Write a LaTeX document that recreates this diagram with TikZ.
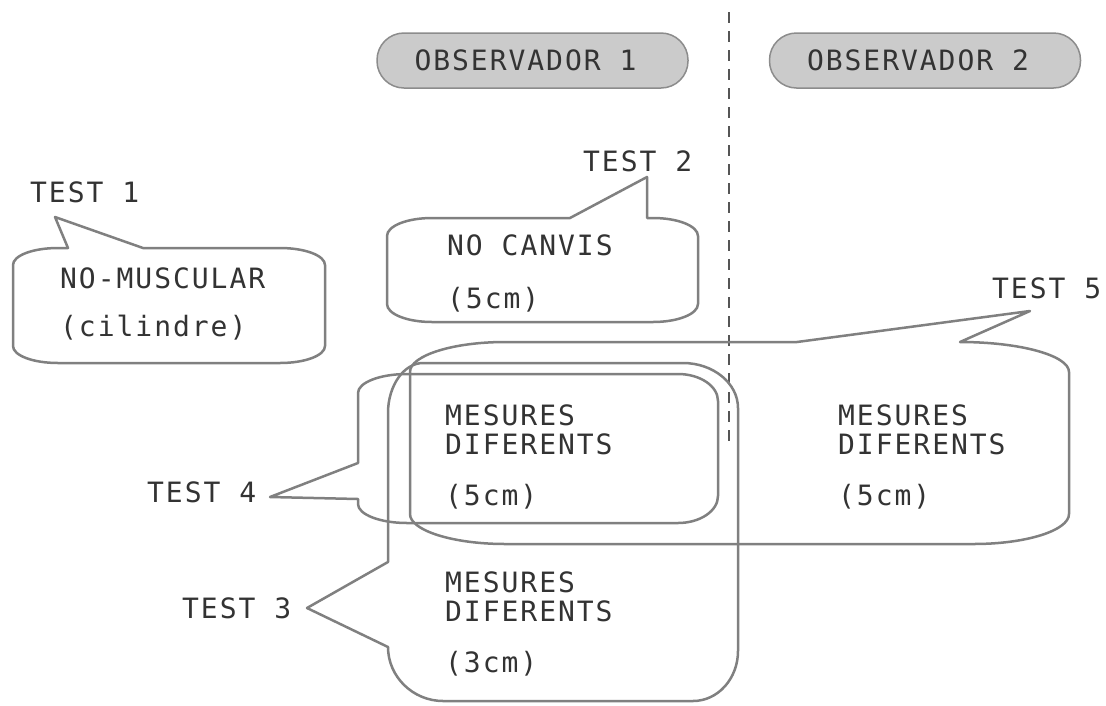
\documentclass[tikz,border=0pt]{standalone}
\usepackage{fontspec}
\newfontfamily\lblfont{DejaVu Sans Mono}[LetterSpace=7]
\definecolor{txt}{HTML}{333333}
\definecolor{edge}{HTML}{808080}
\definecolor{pillfill}{HTML}{CBCBCB}
\definecolor{pilledge}{HTML}{8C8C8C}
\definecolor{dashc}{HTML}{555555}
\tikzset{
  lbl/.style={font=\lblfont\fontsize{28}{31}\selectfont, text=txt, inner sep=0pt, anchor=base west},
  bubble/.style={draw=edge, line width=2.5pt, line join=round},
  pill/.style={draw=pilledge, fill=pillfill, line width=1.5pt, rounded corners=27pt,
    minimum width=311pt, minimum height=55pt, inner sep=0pt,
    font=\lblfont\fontsize{28}{31}\selectfont, text=txt},
  divider/.style={draw=dashc, line width=2pt, dash pattern=on 11pt off 8pt}
}
\begin{document}
\begin{tikzpicture}[x=1pt,y=-1pt]
\useasboundingbox (0,0) rectangle (1106,705);
\fill[white] (0,0) rectangle (1106,705);

% divider
\coordinate (dtop) at (729,12);
\coordinate (dbot) at (729,448);
\draw[divider] (dtop) -- (dbot);

% observers
\node[pill] (obs1) at (532.5,60.5) {OBSERVADOR 1\kern14pt};
\node[pill] (obs2) at (925,60.5) {OBSERVADOR 2\kern14pt};

% TEST 1 bubble
\draw[bubble] (68,248) -- (55,217) -- (143,248) -- (280,248)
  .. controls (305,248) and (325,255.5) .. (325,265) -- (325,346)
  .. controls (325,355.5) and (305,363) .. (280,363) -- (58,363)
  .. controls (33,363) and (13,355.5) .. (13,346) -- (13,265)
  .. controls (13,255.5) and (33,248) .. (58,248) -- cycle;
\node[lbl] (t1) at (30,202) {TEST 1};
\node[lbl] (t1a) at (60,288) {NO-MUSCULAR};
\node[lbl] (t1b) at (60,336) {(cilindre)};

% TEST 2 bubble
\draw[bubble] (432,218) -- (570,218) -- (647,177) -- (647,218) -- (653,218)
  .. controls (678,218) and (698,226) .. (698,236) -- (698,304)
  .. controls (698,314) and (678,322) .. (653,322) -- (432,322)
  .. controls (407,322) and (387,314) .. (387,304) -- (387,236)
  .. controls (387,226) and (407,218) .. (432,218) -- cycle;
\node[lbl] (t2) at (583,171) {TEST 2};
\node[lbl] (t2a) at (447,255) {NO CANVIS};
\node[lbl] (t2b) at (447,308) {(5cm)};

% TEST 5 bubble
\draw[bubble] (505,342) -- (797,342) -- (1030,311) -- (960,342)
  .. controls (1020,342) and (1069,355.5) .. (1069,372) -- (1069,514)
  .. controls (1069,530.5) and (1026,544) .. (974,544) -- (505,544)
  .. controls (453,544) and (410,530.5) .. (410,514) -- (410,372)
  .. controls (410,355.5) and (453,342) .. (505,342) -- cycle;
\node[lbl] (t5) at (992,298) {TEST 5};
\node[lbl] (t5a) at (838,425) {MESURES};
\node[lbl] (t5b) at (838,454) {DIFERENTS};
\node[lbl] (t5c) at (838,505) {(5cm)};

% TEST 3 bubble
\draw[bubble] (423,363) -- (683,363)
  .. controls (713,363) and (738,383) .. (738,408) -- (738,651)
  .. controls (738,678.5) and (718,701) .. (693,701) -- (443,701)
  .. controls (413,701) and (388,676.7) .. (388,647) -- (307,608) -- (388,562) -- (388,413)
  .. controls (388,385.5) and (404,363) .. (423,363) -- cycle;
\node[lbl] (t3) at (182,618) {TEST 3};
\node[lbl] (t3a) at (445,592) {MESURES};
\node[lbl] (t3b) at (445,621) {DIFERENTS};
\node[lbl] (t3c) at (445,672) {(3cm)};

% TEST 4 bubble
\draw[bubble] (407,374) -- (678,374)
  .. controls (700,374) and (718,386) .. (718,401) -- (718,496)
  .. controls (718,511) and (700,523) .. (678,523) -- (407,523)
  .. controls (380,523) and (358,514.5) .. (358,504) -- (358,499) -- (270,497) -- (358,463) -- (358,393)
  .. controls (358,382.5) and (380,374) .. (407,374) -- cycle;
\node[lbl] (t4) at (147,502) {TEST 4};
\node[lbl] (t4a) at (445,425) {MESURES};
\node[lbl] (t4b) at (445,454) {DIFERENTS};
\node[lbl] (t4c) at (445,505) {(5cm)};
\end{tikzpicture}
\end{document}
